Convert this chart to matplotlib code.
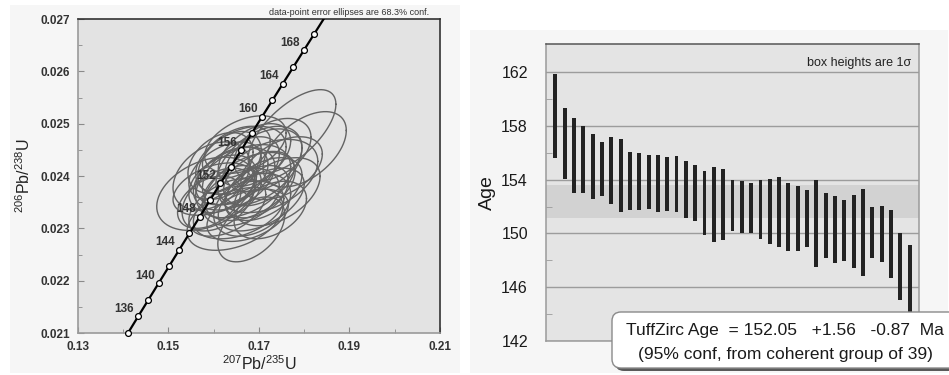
"""
Concordia diagram with zircon error ellipses and weighted age bar chart
"""

import numpy as np
import matplotlib
matplotlib.use("Agg")
import matplotlib.pyplot as plt
from matplotlib.patches import Rectangle, FancyBboxPatch
from matplotlib.transforms import IdentityTransform
from matplotlib.ticker import MultipleLocator, FormatStrFormatter

plt.rcParams['font.family'] = ['Liberation Sans', 'DejaVu Sans']
plt.rcParams['mathtext.fontset'] = 'custom'
plt.rcParams['mathtext.rm'] = 'Liberation Sans'
plt.rcParams['mathtext.it'] = 'Liberation Sans:italic'

# decay constants (1/yr)
LAMBDA_238 = 1.55125e-10
LAMBDA_235 = 9.8485e-10

# concordia marker ages (Ma) and which ones get a label
marker_ages = list(range(134, 171, 2))
label_ages = list(range(136, 169, 4))

# axis ticks
x_major = [0.13, 0.15, 0.17, 0.19, 0.21]
x_minor = [0.14, 0.16, 0.18, 0.20]

# error ellipses: centre 207/235, centre 206/238, 1-sigma x, 1-sigma y, rho
ell_x = [0.1773, 0.1801, 0.1683, 0.1647, 0.1584, 0.1700, 0.1660, 0.1645, 0.1680, 0.1620,
         0.1720, 0.1690, 0.1635, 0.1660, 0.1705, 0.1610, 0.1655, 0.1740, 0.1595, 0.1670,
         0.1700, 0.1640, 0.1625, 0.1710, 0.1685, 0.1650, 0.1600, 0.1725, 0.1665, 0.1630,
         0.1695, 0.1615, 0.1750, 0.1675, 0.1660, 0.1590, 0.1730, 0.1640, 0.1710]
ell_y = [0.02485, 0.02451, 0.02298, 0.02318, 0.02366, 0.02420, 0.02410, 0.02395, 0.02380, 0.02385,
         0.02400, 0.02440, 0.02425, 0.02360, 0.02355, 0.02355, 0.02335, 0.02370, 0.02400, 0.02460,
         0.02395, 0.02370, 0.02410, 0.02430, 0.02345, 0.02445, 0.02375, 0.02335, 0.02390, 0.02340,
         0.02370, 0.02425, 0.02415, 0.02325, 0.02430, 0.02350, 0.02450, 0.02400, 0.02375]
ell_sx = [0.0097, 0.0092, 0.0074, 0.0106, 0.0110, 0.0095, 0.0085, 0.0090, 0.0100, 0.0075,
          0.0110, 0.0080, 0.0070, 0.0085, 0.0095, 0.0080, 0.0100, 0.0095, 0.0085, 0.0090,
          0.0078, 0.0065, 0.0080, 0.0085, 0.0085, 0.0075, 0.0090, 0.0080, 0.0105, 0.0085,
          0.0070, 0.0072, 0.0090, 0.0090, 0.0100, 0.0070, 0.0085, 0.0080, 0.0085]
ell_sy = [0.00080, 0.00072, 0.00062, 0.00060, 0.00070, 0.00075, 0.00065, 0.00060, 0.00065, 0.00055,
          0.00070, 0.00060, 0.00060, 0.00055, 0.00060, 0.00060, 0.00055, 0.00065, 0.00065, 0.00055,
          0.00052, 0.00050, 0.00055, 0.00060, 0.00060, 0.00050, 0.00050, 0.00055, 0.00070, 0.00055,
          0.00050, 0.00058, 0.00060, 0.00050, 0.00065, 0.00050, 0.00060, 0.00055, 0.00060]
ell_rho = [0.65, 0.50, 0.45, 0.40, 0.35, 0.45, 0.50, 0.40, 0.45, 0.35,
           0.40, 0.45, 0.40, 0.35, 0.50, 0.40, 0.40, 0.45, 0.35, 0.40,
           0.40, 0.40, 0.45, 0.40, 0.35, 0.45, 0.40, 0.40, 0.40, 0.45,
           0.40, 0.35, 0.45, 0.40, 0.40, 0.40, 0.40, 0.40, 0.45]

# ranked ages, 1-sigma box top and bottom (Ma)
age_top = [161.83, 159.35, 158.61, 157.99, 157.40, 156.83, 157.17, 157.02, 156.08, 155.99,
           155.81, 155.86, 155.69, 155.74, 155.39, 155.12, 154.62, 154.97, 154.77, 154.00,
           153.88, 153.73, 153.98, 154.08, 154.20, 153.73, 153.56, 153.26, 153.96, 153.04,
           152.82, 152.47, 152.84, 153.31, 151.95, 152.05, 151.78, 150.00, 149.13]
age_bot = [155.64, 154.03, 153.01, 153.04, 152.59, 152.79, 152.20, 151.58, 151.73, 151.73,
           151.83, 151.58, 151.65, 151.58, 151.16, 150.96, 149.90, 149.33, 149.50, 150.17,
           150.00, 150.07, 149.57, 149.25, 149.00, 148.71, 148.71, 149.00, 147.52, 148.19,
           147.77, 147.94, 147.40, 146.85, 148.19, 147.87, 146.65, 145.02, 142.40]

tuff_age = 152.05
tuff_plus = 1.56
tuff_minus = 0.87
n_group = 39


def concordia(t_ma):
    t = np.asarray(t_ma, dtype=float) * 1e6
    return np.exp(LAMBDA_235 * t) - 1, np.exp(LAMBDA_238 * t) - 1


fig = plt.figure(figsize=(9.49, 3.75), dpi=100, facecolor='white')

# light panels behind each plot
fig.patches.append(Rectangle((0.0105, 0.005), 0.474, 0.981, transform=fig.transFigure,
                             facecolor='#f6f6f6', edgecolor='none', zorder=-2))
fig.patches.append(Rectangle((0.4953, 0.005), 0.504, 0.915, transform=fig.transFigure,
                             facecolor='#f6f6f6', edgecolor='none', zorder=-2))

# ---- concordia panel ----
ax1 = fig.add_axes([0.0822, 0.112, 0.3814, 0.8373])
ax1.set_facecolor('#e3e3e3')

theta = np.linspace(0, 2 * np.pi, 150)
for cx, cy, sx, sy, r in zip(ell_x, ell_y, ell_sx, ell_sy, ell_rho):
    ex = cx + sx * np.cos(theta)
    ey = cy + sy * (r * np.cos(theta) + np.sqrt(1 - r ** 2) * np.sin(theta))
    ax1.plot(ex, ey, color='#636363', lw=1.0, zorder=2)

tc = np.linspace(125, 180, 400)
cx_line, cy_line = concordia(tc)
ax1.plot(cx_line, cy_line, color='black', lw=1.6, zorder=3)
mx, my = concordia(marker_ages)
ax1.plot(mx, my, 'o', ms=4.2, mfc='white', mec='black', mew=0.9, zorder=4, clip_on=False)
for a in label_ages:
    lx, ly = concordia([a])
    ax1.annotate(str(a), (lx[0], ly[0]), xytext=(-3, 1), textcoords='offset points',
                 ha='right', va='bottom', fontsize=8.5, fontweight='bold', color='#333333',
                 zorder=5)

ax1.set_xlim(0.13, 0.21)
ax1.set_ylim(0.021, 0.027)
ax1.set_xticks(x_major)
ax1.set_xticks(x_minor, minor=True)
ax1.yaxis.set_major_locator(MultipleLocator(0.001))
ax1.yaxis.set_minor_locator(MultipleLocator(0.0005))
ax1.xaxis.set_major_formatter(FormatStrFormatter('%.2f'))
ax1.yaxis.set_major_formatter(FormatStrFormatter('%.3f'))
ax1.tick_params(which='both', direction='in', color='#8a8a8a', labelcolor='#333333',
                labelsize=8.5)
ax1.tick_params(which='major', length=4)
ax1.tick_params(which='minor', length=3)
ax1.tick_params(axis='y', pad=6)
ax1.tick_params(axis='x', pad=6)
for lab in ax1.get_xticklabels() + ax1.get_yticklabels():
    lab.set_fontweight('bold')
for side in ('left', 'bottom'):
    ax1.spines[side].set_color('#9a9a9a')
    ax1.spines[side].set_linewidth(1.2)
for side in ('top', 'right'):
    ax1.spines[side].set_color('#333333')
    ax1.spines[side].set_linewidth(1.2)
ax1.set_xlabel(r'$^{207}$Pb/$^{235}$U', fontsize=11.5, color='#222222', labelpad=1)
ax1.set_ylabel(r'$^{206}$Pb/$^{238}$U', fontsize=11.5, color='#222222', labelpad=5)
ax1.text(0.97, 1.008, 'data-point error ellipses are 68.3% conf.', transform=ax1.transAxes,
         ha='right', va='bottom', fontsize=6.5, color='#333333')

# ---- ranked age panel ----
ax2 = fig.add_axes([0.5753, 0.0907, 0.3931, 0.792])
ax2.set_facecolor('#e4e4e4')
ax2.set_xlim(-1, len(age_top))
ax2.set_ylim(142, 164.1)
ax2.axhspan(tuff_age - tuff_minus, tuff_age + tuff_plus, color='#d2d2d2', lw=0, zorder=0.5)
ax2.set_yticks(np.arange(142, 163, 4))
ax2.set_yticks(np.arange(144, 161, 4), minor=True)
ax2.grid(axis='y', which='major', color='#9c9c9c', lw=1.0, zorder=0.8)
ax2.set_axisbelow(True)

idx = np.arange(len(age_top))
heights = np.array(age_top) - np.array(age_bot)
ax2.bar(idx, heights, bottom=age_bot, width=0.42, color='#222222', zorder=3)

ax2.set_xticks([])
ax2.tick_params(axis='y', which='major', length=0, labelsize=11.5, labelcolor='#1a1a1a', pad=13)
ax2.tick_params(axis='y', which='minor', direction='in', length=4, color='#9a9a9a')
for side in ('left', 'bottom', 'right'):
    ax2.spines[side].set_color('#9a9a9a')
    ax2.spines[side].set_linewidth(1.1)
ax2.spines['top'].set_color('#555555')
ax2.spines['top'].set_linewidth(1.1)
ax2.set_ylabel('Age', fontsize=14, color='#1a1a1a', labelpad=4)
ax2.text(0.98, 0.955, 'box heights are 1\u03c3', transform=ax2.transAxes,
         ha='right', va='top', fontsize=9, color='#222222')

# result box with drop shadow
shadow = FancyBboxPatch((615, 4), 400, 56, boxstyle='round,pad=0,rounding_size=9',
                        transform=IdentityTransform(), facecolor='#5a5a5a',
                        edgecolor='none', zorder=1)
box = FancyBboxPatch((612, 7), 400, 56, boxstyle='round,pad=0,rounding_size=9',
                     transform=IdentityTransform(), facecolor='white',
                     edgecolor='#8a8a8a', lw=1.0, zorder=1.1)
fig.patches.extend([shadow, box])
fig.text(785 / 949, 45 / 375,
         f'TuffZirc Age  = {tuff_age:.2f}   +{tuff_plus:.2f}   -{tuff_minus:.2f}  Ma',
         ha='center', va='center', fontsize=12.5, color='#1a1a1a', zorder=4)
fig.text(785 / 949, 20 / 375, f'(95% conf, from coherent group of {n_group})',
         ha='center', va='center', fontsize=12.5, color='#1a1a1a', zorder=4)

fig.savefig('out.png', dpi=100, facecolor='white')
